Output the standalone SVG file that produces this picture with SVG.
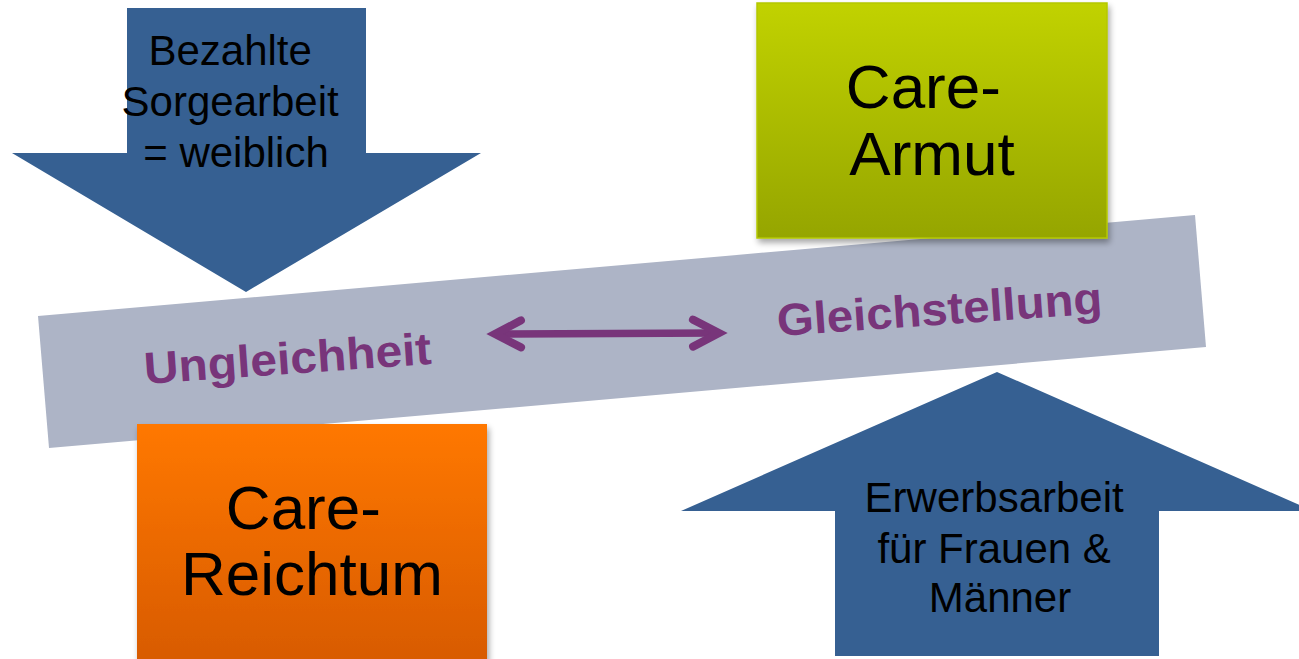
<svg xmlns="http://www.w3.org/2000/svg" width="1299" height="659" viewBox="0 0 1299 659">
  <defs>
    <linearGradient id="gradGreen" x1="0" y1="0" x2="0" y2="1">
      <stop offset="0" stop-color="#c1d200"/>
      <stop offset="1" stop-color="#95a500"/>
    </linearGradient>
    <linearGradient id="gradOrange" x1="0" y1="0" x2="0" y2="1">
      <stop offset="0" stop-color="#ff7800"/>
      <stop offset="1" stop-color="#d45800"/>
    </linearGradient>
    <filter id="shadow" x="-10%" y="-10%" width="125%" height="125%">
      <feGaussianBlur in="SourceAlpha" stdDeviation="3"/>
      <feOffset dx="2" dy="4" result="blur"/>
      <feComponentTransfer><feFuncA type="linear" slope="0.35"/></feComponentTransfer>
      <feMerge><feMergeNode/><feMergeNode in="SourceGraphic"/></feMerge>
    </filter>
    <marker id="chevron" markerUnits="userSpaceOnUse" orient="auto-start-reverse"
            refX="0" refY="0" markerWidth="60" markerHeight="60" viewBox="-40 -30 60 60" overflow="visible">
      <path d="M-26,-13.5 L0,0 L-26,13.5" fill="none" stroke="#78357a" stroke-width="8"
            stroke-linecap="round" stroke-linejoin="miter"/>
    </marker>
  </defs>
  <style>
    .label { font-family: "Liberation Sans", Arial, sans-serif; fill: #000; text-anchor: middle; }
    .small { font-size: 42px; }
    .big { font-size: 62px; }
    .band-text { font-family: "Liberation Sans", Arial, sans-serif; font-weight: bold; font-size: 45px; fill: #78357a; }
    .blue { fill: #366092; }
  </style>

  <rect width="1299" height="659" fill="#ffffff"/>

  <!-- tilted band -->
  <g id="band">
    <polygon points="38,316 1195,215 1206,347 49,448" fill="#adb4c6"/>
  </g>

  <!-- down arrow: paid care work -->
  <g id="arrow-down">
    <polygon class="blue" points="127,8 366,8 366,153 481,153 246,292 12,153 127,153"/>
    <text class="label small">
      <tspan x="236" y="65">Bezahlte</tspan>
      <tspan x="236" y="116">Sorgearbeit</tspan>
      <tspan x="236" y="167">= weiblich</tspan>
    </text>
  </g>

  <!-- Care-Armut -->
  <g id="care-armut">
    <rect x="757" y="3" width="350" height="235" fill="url(#gradGreen)" stroke="#b4c800" stroke-width="1.5" filter="url(#shadow)"/>
    <text class="label big">
      <tspan x="932" y="108">Care-</tspan>
      <tspan x="932" y="175">Armut</tspan>
    </text>
  </g>

  <!-- Care-Reichtum -->
  <g id="care-reichtum">
    <rect x="137" y="424" width="350" height="260" fill="url(#gradOrange)" filter="url(#shadow)"/>
    <text class="label big">
      <tspan x="312" y="529">Care-</tspan>
      <tspan x="312" y="595">Reichtum</tspan>
    </text>
  </g>

  <!-- up arrow: paid work for women and men -->
  <g id="arrow-up">
    <polygon class="blue" points="997,372 1313,511 1159,511 1159,656 835,656 835,511 681,511"/>
    <text class="label small">
      <tspan x="1000" y="512">Erwerbsarbeit</tspan>
      <tspan x="1000" y="563">für Frauen &amp;</tspan>
      <tspan x="1000" y="612">Männer</tspan>
    </text>
  </g>

  <!-- band labels -->
  <g id="ungleichheit">
    <text class="band-text" x="145" y="384" textLength="288" lengthAdjust="spacingAndGlyphs"
          transform="rotate(-4 145 384)">Ungleichheit</text>
  </g>
  <g id="gleichstellung">
    <text class="band-text" x="778" y="336" textLength="326" lengthAdjust="spacingAndGlyphs"
          transform="rotate(-4 778 336)">Gleichstellung</text>
  </g>

  <!-- connectors -->
  <g id="connectors">
    <path d="M495,334 L719,333" fill="none" stroke="#78357a" stroke-width="7.5"
          marker-start="url(#chevron)" marker-end="url(#chevron)"/>
  </g>
</svg>
